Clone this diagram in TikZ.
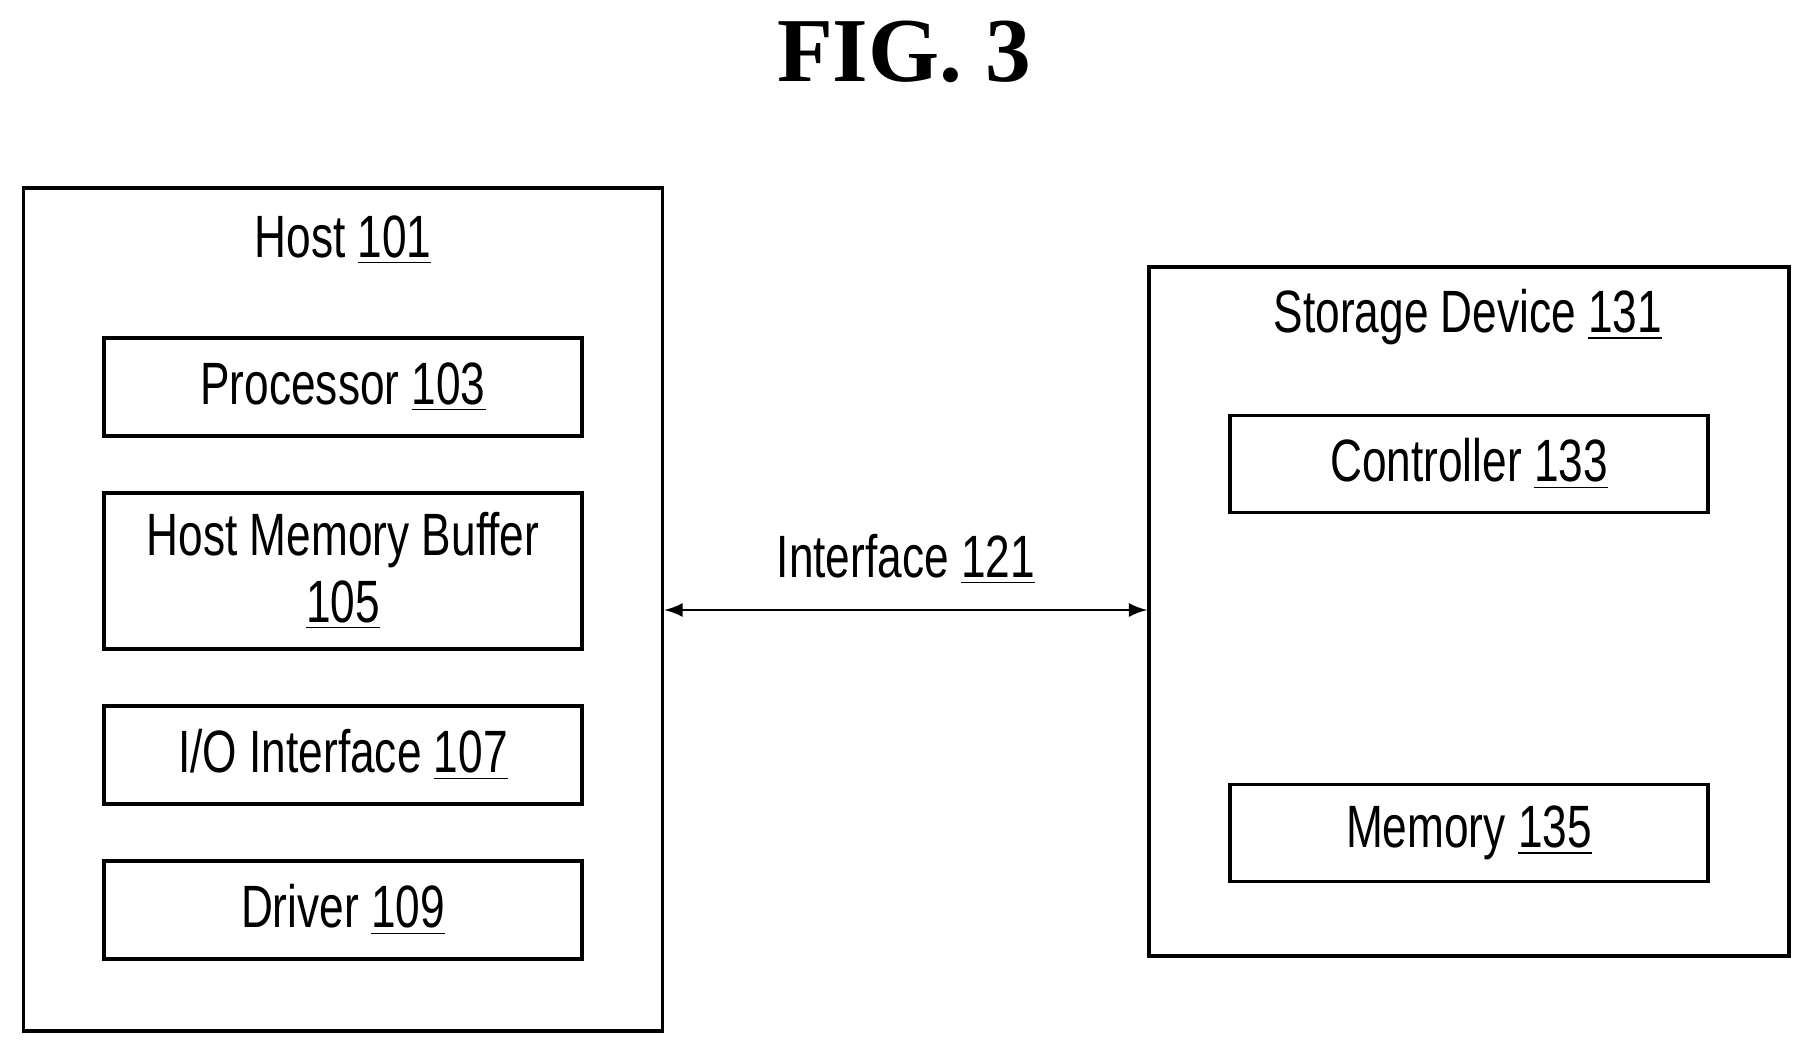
\documentclass[tikz,border=0pt]{standalone}
\usepackage{fontspec}
\setmainfont{Liberation Sans}[FakeStretch=0.74]
\newfontfamily\titlefont{Liberation Serif}
\newcommand{\refnum}[1]{\underline{#1}}
\begin{document}
\begin{tikzpicture}[
    outer/.style={draw, line width=1pt, minimum width=6.39cm},
    part/.style={draw, line width=1pt, minimum width=4.78cm, align=center,
      font=\fontsize{17}{19}\selectfont},
    lbl/.style={font=\fontsize{17}{19}\selectfont},
    >=latex]
    \useasboundingbox (0,0) rectangle (18.10,10.55);

    % Title
    \node (title) at (9.04,10.03) {\titlefont\bfseries\fontsize{26}{28}\selectfont FIG. 3};

    % Host
    \node[outer, minimum height=8.43cm] (host) at (3.43,4.455) {};
    \node[lbl] (hostlbl) at (3.43,8.15) {Host \refnum{101}};
    \node[part, minimum height=0.98cm] (proc) at (3.43,6.68) {Processor \refnum{103}};
    \node[part, minimum height=1.56cm] (hmb) at (3.43,4.84) {Host Memory Buffer\\\refnum{105}};
    \node[part, minimum height=0.98cm] (io) at (3.43,3.00) {I/O Interface \refnum{107}};
    \node[part, minimum height=0.98cm] (drv) at (3.43,1.45) {Driver \refnum{109}};

    % Storage device
    \node[outer, minimum width=6.40cm, minimum height=6.89cm] (stor) at (14.69,4.435) {};
    \node[lbl] (storlbl) at (14.68,7.38) {Storage Device \refnum{131}};
    \node[part, minimum height=0.97cm] (ctrl) at (14.69,5.91) {Controller \refnum{133}};
    \node[part, minimum height=0.97cm] (mem) at (14.69,2.22) {Memory \refnum{135}};

    % Interface
    \draw[<->, line width=0.8pt] (host.east |- 0,4.45) -- (stor.west |- 0,4.45)
      node[midway, above=0.12cm, lbl] (iflbl) {Interface \refnum{121}};
  \end{tikzpicture}
\end{document}
